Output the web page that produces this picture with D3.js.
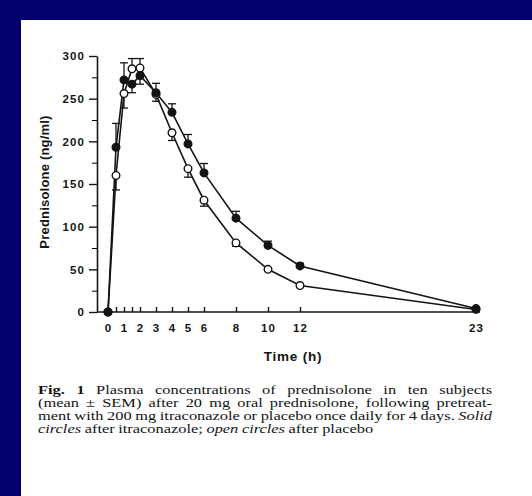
<!DOCTYPE html>
<html>
<head>
<meta charset="utf-8">
<script src="https://cdn.jsdelivr.net/npm/d3@7"></script>
<style>
  html, body { margin: 0; padding: 0; background: #03006e; }
  svg { display: block; }
</style>
</head>
<body>
<svg id="chart" width="532" height="496"></svg>
<script>
// sampling times (h)
const times = [0, 0.5, 1, 1.5, 2, 3, 4, 5, 6, 8, 10, 12, 23];
// prednisolone (ng/ml), mean and SEM
const itraconazole = [0, 193, 272, 267, 277, 257, 234, 197, 163, 110, 78, 54, 4];
const itraconazoleSem = [0, 28, 20, 10, 10, 11, 10, 11, 11, 8, 5, 3, 0];
const placebo = [0, 160, 256, 285, 286, 255, 210, 168, 131, 81, 50, 31, 3];
const placeboSem = [0, 17, 17, 12, 11, 8, 9, 10, 7, 4, 2, 2, 0];

const xTickValues = [0, 0.5, 1, 1.5, 2, 3, 4, 5, 6, 8, 10, 12, 23];
const xLabelled = [0, 1, 2, 3, 4, 5, 6, 8, 10, 12, 23];
const yTickValues = [0, 50, 100, 150, 200, 250, 300];
const yMinorTicks = [25, 75, 125, 175, 225, 275];

const captionLines = [
    [{t: 'Fig. 1', b: true}, {t: 'Plasma concentrations of prednisolone in ten subjects'}],
    [{t: '(mean ± SEM) after 20 mg oral prednisolone, following pretreat-'}],
    [{t: 'ment with 200 mg itraconazole or placebo once daily for 4 days.'}, {t: 'Solid', i: true}],
    [{t: 'circles', i: true}, {t: 'after itraconazole;'}, {t: 'open circles', i: true}, {t: 'after placebo'}]
];

const INK = '#141414';
const SANS = 'Liberation Sans, Arial, sans-serif';
const SERIF = 'Liberation Serif, Times New Roman, serif';
const svg = d3.select('#chart');

// white page
svg.append('rect')
    .attr('x', 21).attr('y', 20)
    .attr('width', 511).attr('height', 476)
    .attr('fill', '#ffffff');

const x = d3.scaleLinear().domain([0, 23]).range([108, 476]);
const y = d3.scaleLinear().domain([0, 300]).range([312, 56]);
const axisX = 97;

// y axis
const yAxis = svg.append('g')
    .attr('transform', 'translate(' + axisX + ',0)')
    .call(d3.axisLeft(y).tickValues(yTickValues).tickSize(8).tickSizeOuter(0).tickPadding(4));
svg.append('g')
    .attr('transform', 'translate(' + axisX + ',0)')
    .call(d3.axisLeft(y).tickValues(yMinorTicks).tickSize(5).tickFormat(''))
    .select('.domain').remove();

// x axis
const xAxis = svg.append('g')
    .attr('transform', 'translate(0,' + y(0) + ')')
    .call(d3.axisBottom(x).tickValues(xTickValues)
        .tickSizeInner(-5).tickSizeOuter(0).tickPadding(12)
        .tickFormat(d => xLabelled.includes(d) ? d : ''));
xAxis.select('.domain').remove();
xAxis.append('line')
    .attr('x1', axisX).attr('x2', x(23) + 4)
    .attr('stroke', INK).attr('stroke-width', 1.6);
xAxis.selectAll('.tick line').filter(d => d === 0).remove();

[yAxis, xAxis].forEach(g => {
    g.selectAll('.domain, .tick line').attr('stroke', INK).attr('stroke-width', 1.4);
    g.selectAll('text')
        .attr('fill', INK)
        .attr('font-family', SANS)
        .attr('font-weight', 'bold')
        .attr('font-size', 11.5)
        .attr('letter-spacing', 1.1);
});
yAxis.select('.domain').attr('stroke-width', 1.6);

// axis titles
svg.append('text')
    .attr('transform', 'translate(49,' + (y(150) - 2) + ') rotate(-90)')
    .attr('text-anchor', 'middle')
    .attr('font-family', SANS)
    .attr('font-weight', 'bold').attr('font-size', 13)
    .attr('letter-spacing', 0.2)
    .attr('fill', INK)
    .text('Prednisolone  (ng/ml)');

svg.append('text')
    .attr('x', 293).attr('y', 361)
    .attr('text-anchor', 'middle')
    .attr('font-family', SANS)
    .attr('font-weight', 'bold').attr('font-size', 13.5)
    .attr('letter-spacing', 0.8)
    .attr('fill', INK)
    .text('Time  (h)');

// series
const series = [
    { name: 'placebo', values: placebo, sem: placeboSem, other: itraconazole, fill: '#ffffff' },
    { name: 'itraconazole', values: itraconazole, sem: itraconazoleSem, other: placebo, fill: INK }
];

const line = d3.line()
    .x(d => x(d.t))
    .y(d => y(d.v));

series.forEach(s => {
    s.points = times.map((t, i) => ({
        t: t, v: s.values[i], sem: s.sem[i],
        dir: s.values[i] >= s.other[i] ? 1 : -1
    }));
    svg.append('path')
        .datum(s.points)
        .attr('d', line)
        .attr('fill', 'none')
        .attr('stroke', INK)
        .attr('stroke-width', 1.6);
});

// error bars: drawn away from the other curve
series.forEach(s => {
    const bars = svg.append('g').selectAll('g')
        .data(s.points.filter(p => p.sem > 0))
        .enter().append('g');
    bars.append('line')
        .attr('x1', p => x(p.t)).attr('x2', p => x(p.t))
        .attr('y1', p => y(p.v))
        .attr('y2', p => y(p.v + p.dir * p.sem))
        .attr('stroke', INK).attr('stroke-width', 1.3);
    bars.append('line')
        .attr('x1', p => x(p.t) - 4).attr('x2', p => x(p.t) + 4)
        .attr('y1', p => y(p.v + p.dir * p.sem))
        .attr('y2', p => y(p.v + p.dir * p.sem))
        .attr('stroke', INK).attr('stroke-width', 1.3);
});

// markers
series.forEach(s => {
    svg.append('g').selectAll('circle')
        .data(s.points)
        .enter().append('circle')
        .attr('cx', p => x(p.t))
        .attr('cy', p => y(p.v))
        .attr('r', 3.8)
        .attr('fill', s.fill)
        .attr('stroke', INK)
        .attr('stroke-width', 1.4);
});

// caption, justified like the printed figure legend
const capLeft = 38, capRight = 492, capTop = 394, capLead = 13;
const capSize = 13.2, wordGap = 3.6;

function captionWords (segs) {
    var words = [];
    segs.forEach(seg => seg.t.split(' ').forEach(w => words.push({ w: w, b: seg.b, i: seg.i })));
    return words;
}

function drawCaptionLine (words) {
    return words.map(wd => svg.append('text')
        .attr('font-family', SERIF)
        .attr('font-size', capSize)
        .attr('font-weight', wd.b ? 'bold' : 'normal')
        .attr('font-style', wd.i ? 'italic' : 'normal')
        .attr('fill', INK)
        .text(wd.w));
}

// the printed type is set wider than Liberation Serif: stretch it so the
// densest line (the third) fills the column with plain spaces
const denseWords = captionWords(captionLines[2]);
const probe = drawCaptionLine(denseWords);
const probeWidth = d3.sum(probe, n => n.node().getComputedTextLength());
probe.forEach(n => n.remove());
const stretch = (capRight - capLeft - wordGap * (denseWords.length - 1)) / probeWidth;

captionLines.forEach((segs, li) => {
    const words = captionWords(segs);
    const nodes = drawCaptionLine(words);
    const widths = nodes.map(n => n.node().getComputedTextLength() * stretch);
    const last = li === captionLines.length - 1;
    const gap = last ? wordGap : (capRight - capLeft - d3.sum(widths)) / (nodes.length - 1);
    const ty = capTop + li * capLead;
    let cx = capLeft;
    nodes.forEach((n, k) => {
        n.attr('transform', 'translate(' + cx + ',' + ty + ') scale(' + stretch + ',1)');
        cx += widths[k] + gap;
    });
});
</script>
</body>
</html>
